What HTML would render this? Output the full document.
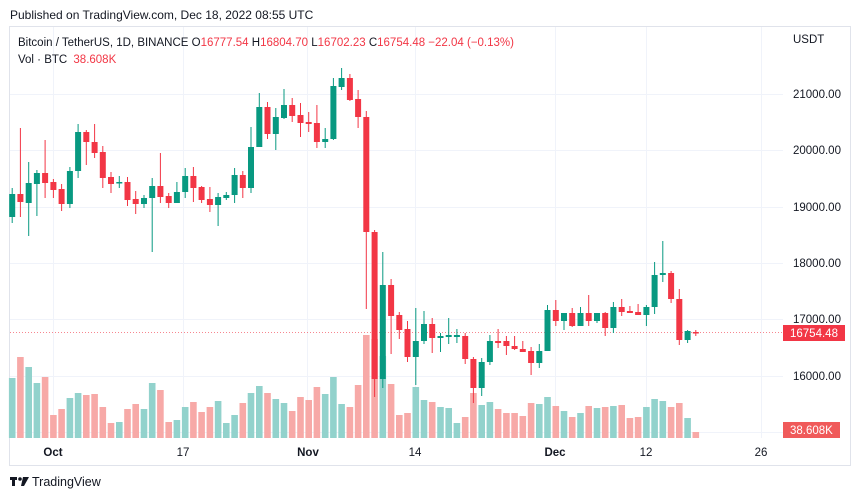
<!DOCTYPE html>
<html><head><meta charset="utf-8"><style>
body{margin:0;background:#fff;width:860px;height:499px;overflow:hidden;font-family:"Liberation Sans",sans-serif}
</style></head><body>
<svg id="s" width="860" height="499" xmlns="http://www.w3.org/2000/svg" font-family="Liberation Sans, sans-serif">
<text x="10" y="19" font-size="12" fill="#131722">Published on TradingView.com, Dec 18, 2022 08:55 UTC</text>
<rect x="9.5" y="26.5" width="841" height="439" fill="none" stroke="#e0e3eb"/>
<g id="grid" stroke="#f0f3fa" stroke-width="1"></g>
<g id="vol"></g>
<line x1="10" y1="332.5" x2="783" y2="332.5" stroke="#f23645" stroke-dasharray="1,2" opacity="0.6"/>
<g id="c"></g>
<text x="18" y="46" font-size="11.5" fill="#131722">Bitcoin / TetherUS, 1D, BINANCE <tspan fill="#131722">O</tspan><tspan fill="#f23645">16777.54</tspan> <tspan fill="#131722">H</tspan><tspan fill="#f23645">16804.70</tspan> <tspan fill="#131722">L</tspan><tspan fill="#f23645">16702.23</tspan> <tspan fill="#131722">C</tspan><tspan fill="#f23645">16754.48 −22.04 (−0.13%)</tspan></text>
<text x="18" y="63" font-size="11.5" fill="#131722">Vol · BTC <tspan fill="#f23645" dx="3">38.608K</tspan></text>
<g font-size="11.5" fill="#131722">
<text x="793" y="43">USDT</text>
<text x="793" y="98">21000.00</text>
<text x="793" y="154">20000.00</text>
<text x="793" y="211">19000.00</text>
<text x="793" y="267">18000.00</text>
<text x="793" y="323">17000.00</text>
<text x="793" y="380">16000.00</text>
</g>
<rect x="783" y="325" width="62" height="16" fill="#f23645"/>
<text x="790" y="337" font-size="11.5" fill="#fff">16754.48</text>
<rect x="783" y="422" width="57" height="16" fill="#f05a5a"/>
<text x="790" y="434" font-size="11.5" fill="#fff">38.608K</text>
<g font-size="11.5" fill="#131722" text-anchor="middle">
<text x="53" y="456" font-weight="bold">Oct</text>
<text x="183" y="456">17</text>
<text x="308" y="456" font-weight="bold">Nov</text>
<text x="415" y="456">14</text>
<text x="555" y="456" font-weight="bold">Dec</text>
<text x="646" y="456">12</text>
<text x="761" y="456">26</text>
</g>
<g fill="#131722"><rect x="10" y="477" width="7" height="3"/><rect x="12" y="477" width="3" height="9"/><circle cx="20" cy="479" r="1.8"/><path d="M23 477h6l-5 9h-3z"/></g>
<text x="32" y="486" font-size="12.5" fill="#131722">TradingView</text>
</svg>
<script>
var NS="http://www.w3.org/2000/svg";
function el(p,t,a){var e=document.createElementNS(NS,t);for(var k in a)e.setAttribute(k,a[k]);document.getElementById(p).appendChild(e);}
[94,150,207,263,319,376,432].forEach(function(y){el("grid","line",{x1:10,x2:783,y1:y+.5,y2:y+.5});});
[53,183,307,415,555,646,761].forEach(function(x){el("grid","line",{x1:x+.5,x2:x+.5,y1:27,y2:438});});
// [g?, top, bottom, wickTop, wickBot, volTop]
var d=[[1,194,217,188,223,378],[0,194,202,128,217,357],[1,183,203,162,236,367],[1,173,184,170,216,383],[0,173,183,140,198,377],[0,182,190,179,198,415],[0,189,204,184,211,409],[1,171,204,167,208,398],[1,132,171,124,178,393],[0,132,142,130,165,395],[0,142,153,124,158,394],[0,152,178,146,188,407],[0,177,184,172,193,423],[1,182,183,176,188,422],[0,182,200,177,206,409],[0,199,204,191,214,404],[1,198,204,195,208,409],[1,186,198,178,252,383],[0,186,197,153,203,390],[0,196,203,193,208,422],[1,192,203,182,203,420],[1,176,192,168,198,407],[0,176,188,167,202,402],[0,187,200,186,203,412],[0,199,205,187,212,407],[1,197,205,193,226,401],[1,195,198,192,200,423],[1,175,195,168,203,415],[0,175,188,171,198,403],[1,147,188,127,193,393],[1,107,147,93,147,386],[0,107,134,102,139,393],[1,117,134,108,150,399],[1,105,118,89,119,403],[0,105,116,98,122,411],[0,115,123,103,137,397],[0,122,124,112,132,400],[0,123,142,105,148,387],[1,139,142,128,148,394],[1,86,139,78,140,377],[1,78,87,68,90,404],[0,78,100,74,101,407],[0,99,117,90,128,385],[0,117,232,111,309,335],[0,232,379,230,397,339],[1,285,379,252,388,356],[0,285,316,279,354,384],[0,315,330,312,339,415],[0,329,357,321,362,413],[1,341,357,308,385,387],[1,324,341,311,344,400],[0,324,338,318,353,402],[1,336,338,333,352,407],[1,335,337,318,344,408],[1,335,337,329,343,423],[0,336,359,333,364,417],[0,359,388,357,403,393],[1,362,388,358,396,405],[1,341,362,335,365,402],[0,341,343,329,348,409],[0,341,346,336,355,413],[0,346,349,336,350,413],[0,349,352,341,352,416],[0,351,363,347,375,403],[1,351,363,344,368,404],[1,310,351,305,351,397],[0,310,321,300,326,406],[1,313,321,313,330,411],[0,313,326,308,327,417],[1,313,326,307,326,413],[0,313,321,295,326,406],[1,313,321,313,323,408],[0,313,328,312,336,407],[1,307,328,302,333,406],[0,307,312,299,316,405],[0,311,313,306,313,418],[0,312,315,304,315,417],[1,307,315,305,326,407],[1,275,307,262,314,399],[1,273,275,241,282,401],[0,273,299,271,303,407],[0,299,340,289,345,403],[1,331,340,330,343,418],[0,332,333,330,336,432]];
var x0=12.2,dx=8.236;
d.forEach(function(c,i){var x=x0+i*dx;var col=c[0]?"#089981":"#f23645";var vc=c[0]?"#92d2cc":"#f7a9a7";
el("vol","rect",{x:(x-3.3).toFixed(1),y:c[5],width:6.6,height:438-c[5],fill:vc});
el("c","line",{x1:x.toFixed(1),x2:x.toFixed(1),y1:c[3],y2:c[4],stroke:col,"stroke-width":1});
el("c","rect",{x:(x-3).toFixed(1),y:c[1],width:6,height:Math.max(1.5,c[2]-c[1]),fill:col});});
</script>
</body></html>
